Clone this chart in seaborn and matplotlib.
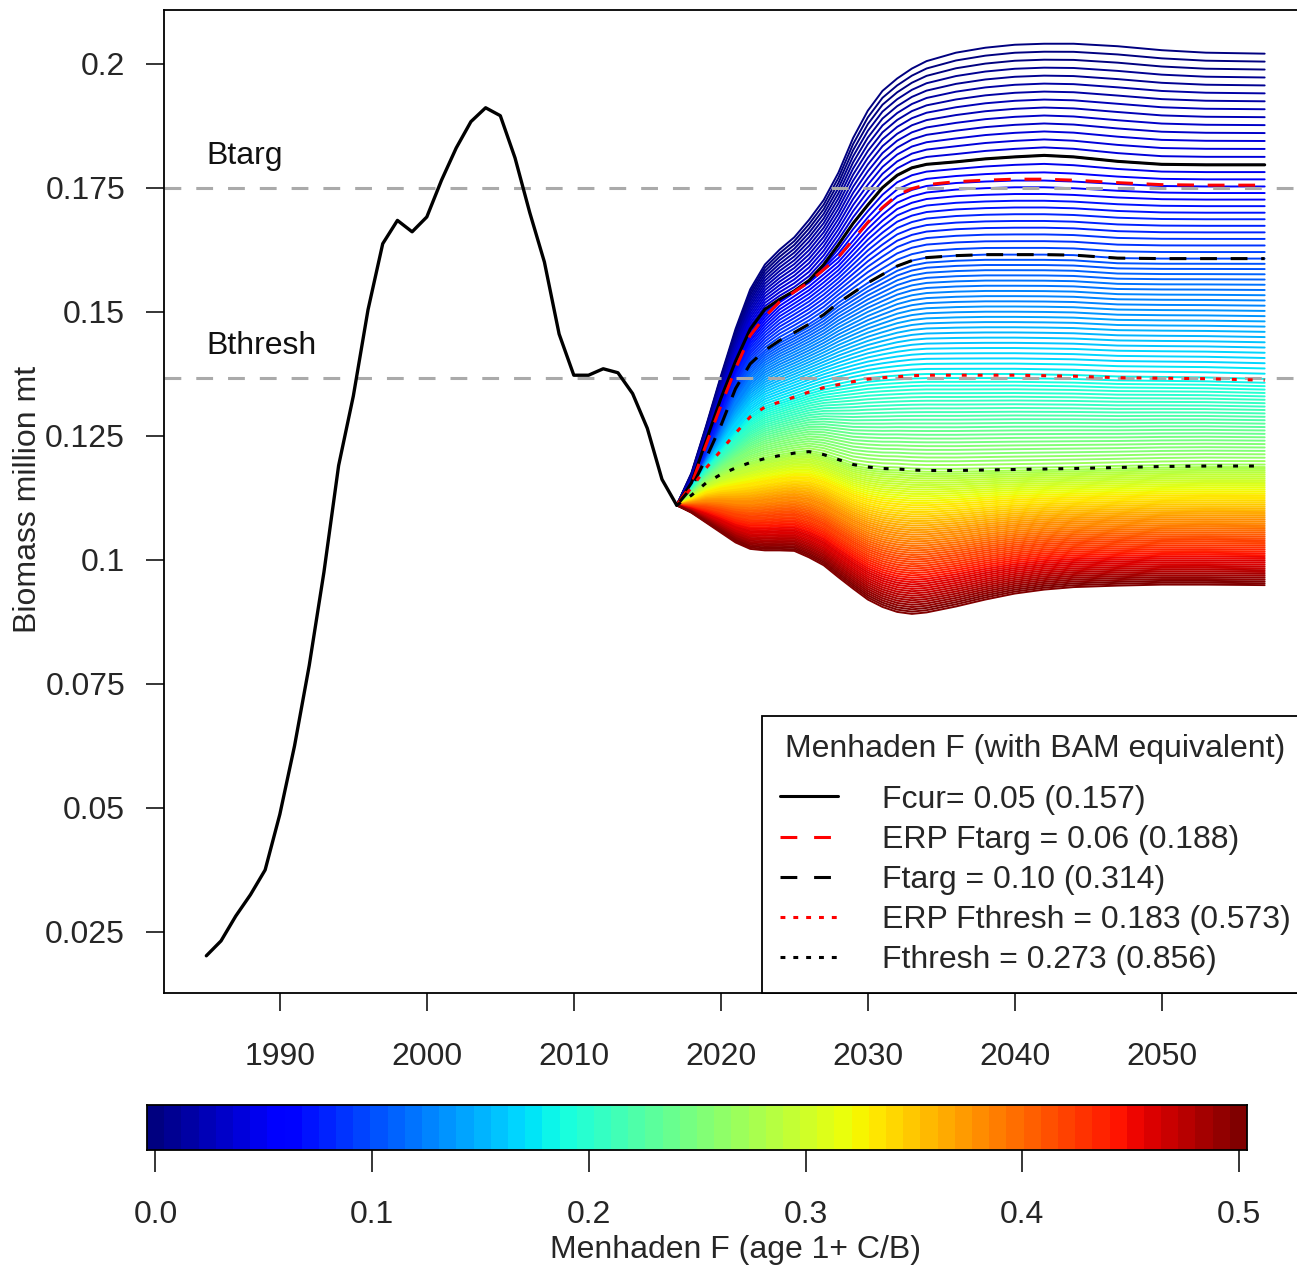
import matplotlib
matplotlib.use("Agg")
import matplotlib.pyplot as plt
from matplotlib.lines import Line2D
import seaborn as sns
import pandas as pd
import numpy as np

sns.set_theme(style="white")
plt.rcParams["font.family"] = ["Liberation Sans", "DejaVu Sans"]

### Historical biomass (million mt)
hist_years = list(range(1985, 2018))
hist_biomass = [0.0202, 0.0232, 0.0282, 0.0325, 0.0375, 0.0487, 0.0625, 0.0787, 0.0975,
                0.1190, 0.1330, 0.1504, 0.1637, 0.1684, 0.1661, 0.1691, 0.1765, 0.1830,
                0.1883, 0.1911, 0.1895, 0.1810, 0.1700, 0.1600, 0.1455, 0.1372, 0.1372,
                0.1385, 0.1377, 0.1335, 0.1265, 0.1162, 0.1110]

### Projections for a few F values
proj_years = [2017, 2018, 2019, 2020, 2021, 2022, 2023, 2024, 2025, 2026, 2027, 2028, 2029,
              2030, 2031, 2032, 2033, 2034, 2036, 2038, 2040, 2042, 2044, 2047, 2050, 2053, 2057]
proj_f0 = [0.1110, 0.1175, 0.1270, 0.1370, 0.1465, 0.1545, 0.1595, 0.1625, 0.1650, 0.1685,
           0.1725, 0.1780, 0.1850, 0.1905, 0.1945, 0.1970, 0.1990, 0.2005, 0.2022, 0.2032,
           0.2038, 0.2040, 0.2040, 0.2035, 0.2027, 0.2022, 0.2020]
proj_fcur = [0.1110, 0.1155, 0.1240, 0.1325, 0.1400, 0.1465, 0.1505, 0.1525, 0.1542, 0.1563,
             0.1595, 0.1635, 0.1678, 0.1715, 0.1750, 0.1775, 0.1790, 0.1797, 0.1802, 0.1808,
             0.1812, 0.1815, 0.1812, 0.1803, 0.1797, 0.1796, 0.1796]
proj_erp_ftarg = [0.1110, 0.1152, 0.1232, 0.1310, 0.1385, 0.1452, 0.1490, 0.1520, 0.1540,
                  0.1560, 0.1585, 0.1610, 0.1645, 0.1680, 0.1710, 0.1735, 0.1748, 0.1756,
                  0.1762, 0.1765, 0.1767, 0.1767, 0.1765, 0.1760, 0.1756, 0.1755, 0.1755]
proj_ftarg = [0.1110, 0.1145, 0.1205, 0.1270, 0.1345, 0.1395, 0.1422, 0.1442, 0.1458, 0.1475,
              0.1494, 0.1518, 0.1538, 0.1558, 0.1575, 0.1592, 0.1603, 0.1609, 0.1613, 0.1615,
              0.1615, 0.1615, 0.1614, 0.1608, 0.1607, 0.1607, 0.1607]
proj_erp_fthresh = [0.1110, 0.1145, 0.1185, 0.1220, 0.1255, 0.1288, 0.1308, 0.1318, 0.1328,
                    0.1338, 0.1347, 0.1353, 0.1359, 0.1364, 0.1367, 0.1369, 0.1371, 0.1372,
                    0.1372, 0.1372, 0.1372, 0.1371, 0.1370, 0.1367, 0.1366, 0.1365, 0.1362]
proj_fthresh = [0.1110, 0.1130, 0.1155, 0.1172, 0.1185, 0.1196, 0.1204, 0.1210, 0.1215, 0.1218,
                0.1212, 0.1202, 0.1192, 0.1187, 0.1184, 0.1183, 0.1181, 0.1180, 0.1180, 0.1181,
                0.1182, 0.1183, 0.1184, 0.1186, 0.1188, 0.1189, 0.1189]
proj_f05 = [0.1110, 0.1095, 0.1075, 0.1055, 0.1035, 0.1022, 0.1019, 0.1019, 0.1018, 0.1005,
            0.0989, 0.0965, 0.0942, 0.0920, 0.0905, 0.0895, 0.0891, 0.0894, 0.0906, 0.0920,
            0.0932, 0.0940, 0.0945, 0.0948, 0.0950, 0.0950, 0.0949]

anchor_f = [0.0, 0.05, 0.06, 0.10, 0.183, 0.273, 0.5]
anchor_curves = [proj_f0, proj_fcur, proj_erp_ftarg, proj_ftarg, proj_erp_fthresh,
                 proj_fthresh, proj_f05]

btarg = 0.175
bthresh = 0.1367

legend_labels = ["Fcur= 0.05 (0.157)", "ERP Ftarg = 0.06 (0.188)", "Ftarg = 0.10 (0.314)",
                 "ERP Fthresh = 0.183 (0.573)", "Fthresh = 0.273 (0.856)"]

# fan of F values between the read curves (linear in F, year by year)
fan_f = np.linspace(0, 0.5, 141)
anchor_arr = np.array(anchor_curves)
rows = []
for f in fan_f:
    for j, yr in enumerate(proj_years):
        rows.append((f, yr, np.interp(f, anchor_f, anchor_arr[:, j])))
fan_df = pd.DataFrame(rows, columns=["F", "year", "biomass"])
hist_df = pd.DataFrame({"year": hist_years, "biomass": hist_biomass})

cmap = matplotlib.colormaps["jet"].resampled(64)

W, H = 1297, 1269
fig = plt.figure(figsize=(W / 100, H / 100), dpi=100)
ax = fig.add_axes([164 / W, 1 - 993 / H, (1307 - 164) / W, (993 - 10) / H])

sns.lineplot(data=fan_df, x="year", y="biomass", hue="F", palette=cmap, hue_norm=(0, 0.5),
             units="F", estimator=None, legend=False, lw=1.4, ax=ax, zorder=1)

for yv in [btarg, bthresh]:
    ax.axhline(yv, color="#aaaaaa", lw=2.2, dashes=(5.5, 4.9), zorder=2)

styles = [
    (proj_fcur, "black", None, None),
    (proj_erp_ftarg, "red", (5.5, 4.5), (5.5, 5.5)),
    (proj_ftarg, "black", (5.5, 4.5), (5.5, 5.5)),
    (proj_erp_fthresh, "red", (1.6, 3.6), (1.6, 2.6)),
    (proj_fthresh, "black", (1.6, 3.6), (1.6, 2.6)),
]
handles = []
for (vals, col, dash, leg_dash), lab in zip(styles, legend_labels):
    kw = {"dashes": dash} if dash else {}
    ax.plot(proj_years, vals, color=col, lw=2.2, zorder=3, **kw)
    hkw = {"dashes": leg_dash} if leg_dash else {}
    handles.append(Line2D([0], [0], color=col, lw=2.2, label=lab, **hkw))

sns.lineplot(data=hist_df, x="year", y="biomass", color="black", lw=2.4, ax=ax, zorder=4)

ax.text(1985, 0.1813, "Btarg", fontsize=23, va="center", ha="left", color="#111111")
ax.text(1985, 0.1430, "Bthresh", fontsize=23, va="center", ha="left", color="#111111")

ax.set_xlim(1982.12, 2059.88)
ax.set_ylim(0.0127, 0.2108)
ax.set_xticks(range(1990, 2060, 10))
yt = [0.2, 0.175, 0.15, 0.125, 0.1, 0.075, 0.05, 0.025]
ax.set_yticks(yt)
ax.set_yticklabels(["0.2", "0.175", "0.15", "0.125", "0.1", "0.075", "0.05", "0.025"])
ax.set_xlabel("")
ax.set_ylabel("")
ax.tick_params(axis="both", which="both", direction="out", length=13, width=1.1,
               labelsize=23, bottom=True, left=True, color="black")
ax.tick_params(axis="x", pad=22)
ax.tick_params(axis="y", pad=15)
for s in ax.spines.values():
    s.set_color("black")
    s.set_linewidth(1.3)

leg = ax.legend(handles=handles, loc="lower right", bbox_to_anchor=(1.0014, 0),
                borderaxespad=0, fancybox=False, framealpha=1, edgecolor="black",
                fontsize=23, title="Menhaden F (with BAM equivalent)", title_fontsize=23,
                handlelength=1.8, handletextpad=1.4, labelspacing=0.32, borderpad=0.55)
leg.get_frame().set_linewidth(1.3)
leg._legend_box.sep = 15  # wider gap under the title, like the original

fig.text(28 / W, 1 - 499.5 / H, "Biomass million mt", rotation=90, fontsize=23,
         ha="center", va="center")

# colour bar
cax = fig.add_axes([147 / W, 1 - 1150 / H, 1100 / W, 45 / H])
lo, hi = -0.0039, 0.5037
edges = np.linspace(lo, hi, 65)
mids = (edges[:-1] + edges[1:]) / 2
cax.pcolormesh(edges, [0, 1], mids[np.newaxis, :], cmap=cmap, vmin=lo, vmax=hi)
cax.set_xlim(lo, hi)
cax.set_ylim(0, 1)
cax.set_yticks([])
cax.set_xticks([0.0, 0.1, 0.2, 0.3, 0.4, 0.5])
cax.set_xticklabels(["0.0", "0.1", "0.2", "0.3", "0.4", "0.5"])
cax.tick_params(axis="x", direction="out", length=16, width=1.1, labelsize=23, pad=20,
                bottom=True, color="black")
for s in cax.spines.values():
    s.set_color("black")
    s.set_linewidth(1.3)
fig.text(736 / W, 1 - 1250 / H, "Menhaden F (age 1+ C/B)", fontsize=23, ha="center",
         va="center")

fig.savefig("out.png", dpi=100)
